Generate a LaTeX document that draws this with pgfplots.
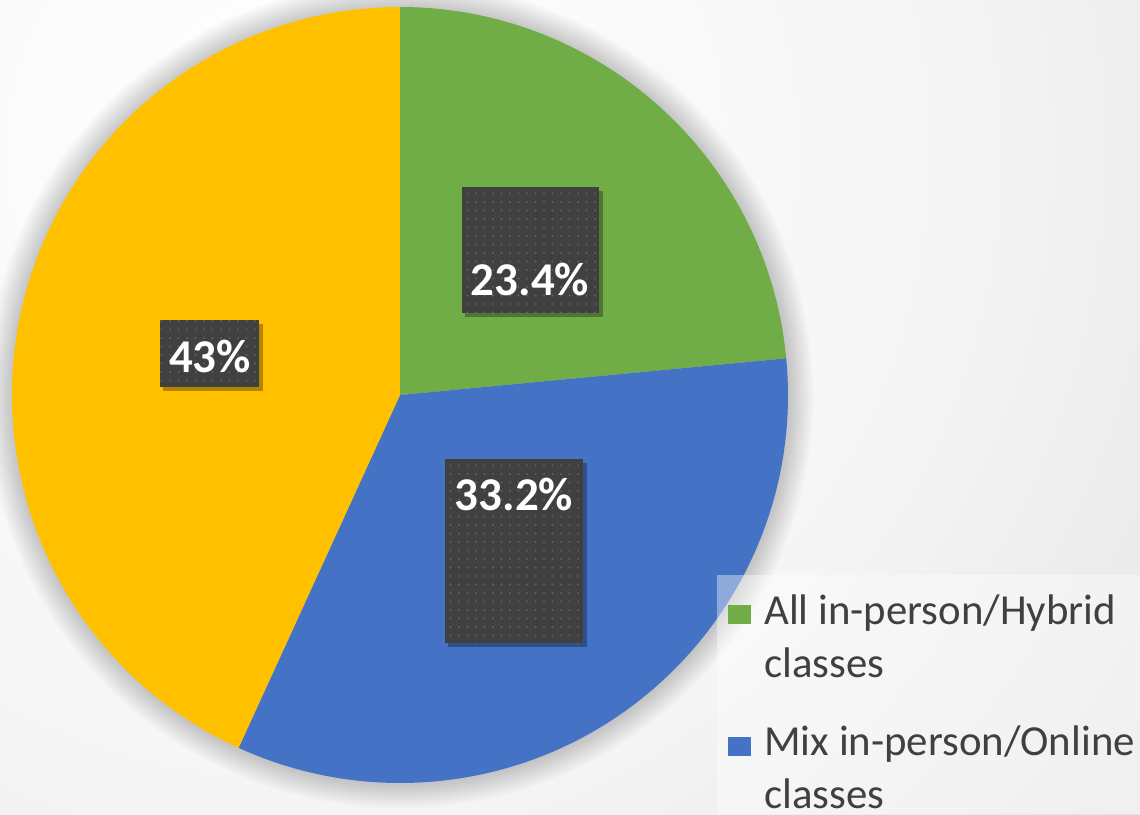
\documentclass[border=0pt]{standalone}
\usepackage{pgfplots}
\pgfplotsset{compat=1.18}
\usepackage{pgfplotstable}
\usetikzlibrary{patterns.meta}
\usepackage{fontspec}
\setmainfont{Carlito}
\definecolor{pgreen}{HTML}{70AD47}
\definecolor{pblue}{HTML}{4472C4}
\definecolor{pyellow}{HTML}{FFC000}
\definecolor{lblbox}{HTML}{404040}
\definecolor{lbldot}{HTML}{606060}
\definecolor{legtext}{HTML}{404040}
\definecolor{bgA}{HTML}{F5F5F5}
\definecolor{bgB}{HTML}{E6E6E6}
\definecolor{bgC}{HTML}{D8D8D8}
\definecolor{bgD}{HTML}{CDCDCD}
\definecolor{bgE}{HTML}{C6C6C6}
\definecolor{bgF}{HTML}{C0C0C0}
\pgfdeclareradialshading{bgshade}{\pgfpoint{0bp}{0bp}}{color(0bp)=(white); color(15bp)=(bgA); color(24bp)=(bgB); color(31bp)=(bgC); color(37bp)=(bgD); color(43bp)=(bgE); color(50bp)=(bgF)}

\pgfplotstableread{
label value
Hybrid 23.4
Mix 33.2
Online 43
}\piedata

\begin{document}
\begin{tikzpicture}
\pgfplotstablegetelem{0}{value}\of\piedata\edef\va{\pgfplotsretval}
\pgfplotstablegetelem{1}{value}\of\piedata\edef\vb{\pgfplotsretval}
\pgfplotstablegetelem{2}{value}\of\piedata\edef\vc{\pgfplotsretval}
\pgfmathsetmacro\tot{\va+\vb+\vc}
\pgfmathsetmacro\aB{90-360*\va/\tot}
\pgfmathsetmacro\aC{\aB-360*\vb/\tot}
\path[use as bounding box, clip] (0,0) rectangle (570pt,407pt);
\begin{axis}[
  at={(0,0)}, anchor=south west,
  scale only axis, width=570pt, height=407pt,
  xmin=0, xmax=1140, ymin=0, ymax=814,
  hide axis, clip=false,
  legend style={at={(axis cs:716,236)}, anchor=north west, draw=none, fill=none,
    font=\fontsize{21.4}{26.5}\selectfont, text=legtext,
    inner xsep=6pt, inner ysep=6pt, row sep=19pt,
    cells={align=left, anchor=west}, column sep=4.5pt},
  legend image code/.code={\fill[#1] (0pt,6.5pt) rectangle (11.5pt,16pt);},
]
% background
\fill[bgC] (axis cs:0,0) rectangle (axis cs:1140,814);
\shade[shading=bgshade] (axis cs:300,664) circle[radius=550pt];
% soft shadow around the pie
\pgfplotsinvokeforeach{1,...,10}{\fill[black, opacity=0.02] (axis cs:400,419) circle[radius={194pt+1.25pt*#1}];}
% slices
\fill[pgreen] (axis cs:400,419) -- ++(90:194pt) arc[start angle=90, end angle=\aB, radius=194pt] -- cycle;
\fill[pblue] (axis cs:400,419) -- ++(\aB:194pt) arc[start angle=\aB, end angle=\aC, radius=194pt] -- cycle;
\fill[pyellow] (axis cs:400,419) -- ++(\aC:194pt) arc[start angle=\aC, end angle=-270, radius=194pt] -- cycle;
% data label boxes
\fill[black, opacity=0.3] (axis cs:465,497) rectangle (axis cs:603,623);
\path[fill=lblbox, postaction={pattern={Dots[distance=4.25pt, radius=0.6pt]}, pattern color=lbldot}] (axis cs:462,501) rectangle (axis cs:599,627);
\node[anchor=base, text=white, font=\bfseries\fontsize{23.5}{23.5}\selectfont] at (axis cs:530,519) {\va\%};
\fill[black, opacity=0.3] (axis cs:163,423) rectangle (axis cs:263,490);
\path[fill=lblbox, postaction={pattern={Dots[distance=4.25pt, radius=0.6pt]}, pattern color=lbldot}] (axis cs:160,427) rectangle (axis cs:259,494);
\node[anchor=base, text=white, font=\bfseries\fontsize{23.5}{23.5}\selectfont] at (axis cs:210,442) {\vc\%};
\fill[black, opacity=0.3] (axis cs:448,167) rectangle (axis cs:587,351);
\path[fill=lblbox, postaction={pattern={Dots[distance=4.25pt, radius=0.6pt]}, pattern color=lbldot}] (axis cs:445,171) rectangle (axis cs:583,355);
\node[anchor=base, text=white, font=\bfseries\fontsize{23.5}{23.5}\selectfont] at (axis cs:514,304) {\vb\%};
% legend background
\fill[white, opacity=0.4] (axis cs:717,0) rectangle (axis cs:1140,239);
\addlegendimage{fill=pgreen, draw=none}
\addlegendentry{All in-person/Hybrid\\classes}
\addlegendimage{fill=pblue, draw=none}
\addlegendentry{Mix in-person/Online\\classes}
\end{axis}
\end{tikzpicture}
\end{document}
